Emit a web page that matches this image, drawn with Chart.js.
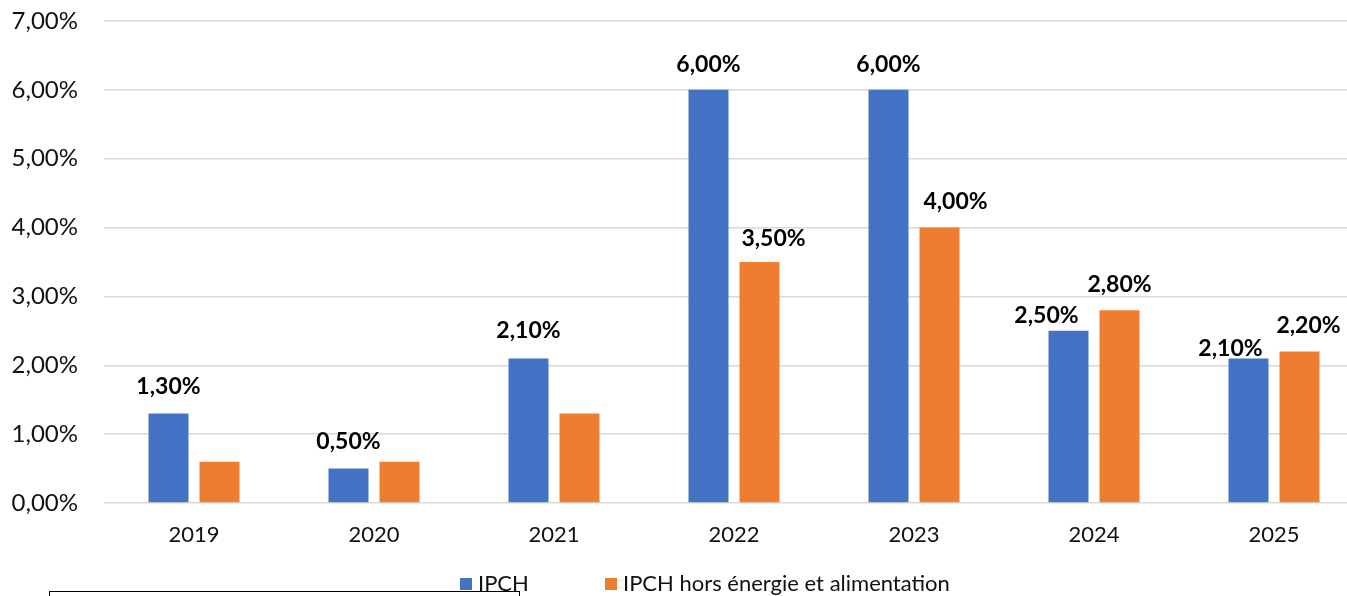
<!DOCTYPE html>
<html lang="fr">
<head>
<meta charset="utf-8">
<title>IPCH</title>
<script src="https://cdn.jsdelivr.net/npm/chart.js@4.4.1/dist/chart.umd.min.js"></script>
<style>
  html, body { margin: 0; padding: 0; background: #fff; overflow: hidden; }
  #wrap { position: relative; width: 1370px; height: 596px; }
</style>
</head>
<body>
<div id="wrap"><canvas id="inflation"></canvas></div>
<script>
const years = ["2019", "2020", "2021", "2022", "2023", "2024", "2025"];
const ipch = [1.3, 0.5, 2.1, 6.0, 6.0, 2.5, 2.1];
const ipchCore = [0.6, 0.6, 1.3, 3.5, 4.0, 2.8, 2.2];
const seriesNames = ["IPCH", "IPCH hors énergie et alimentation"];
const yTicks = [0, 1, 2, 3, 4, 5, 6, 7];

// which bars carry a value label
const ipchLabelled = [true, true, true, true, true, true, true];
const coreLabelled = [false, false, false, true, true, true, true];

const FONT = "Lato, 'Open Sans', sans-serif";
const pct = v => v.toFixed(2).replace(".", ",") + "%";

// value labels above the bars, some nudged sideways so they don't collide
const barValues = {
  id: "barValues",
  afterDatasetsDraw(chart, args, opts) {
    const ctx = chart.ctx;
    ctx.save();
    ctx.font = "bold 23px " + FONT;
    ctx.fillStyle = "#000";
    ctx.textAlign = "center";
    ctx.textBaseline = "alphabetic";
    chart.data.datasets.forEach((ds, i) => {
      chart.getDatasetMeta(i).data.forEach((bar, j) => {
        if (!opts.show[i][j]) return;
        ctx.fillText(pct(ds.data[j]), bar.x + opts.dx[i][j], bar.y - opts.gap[i][j]);
      });
    });
    ctx.restore();
  }
};

// legend row under the axis
const bottomLegend = {
  id: "bottomLegend",
  afterDraw(chart, args, opts) {
    const ctx = chart.ctx;
    ctx.save();
    ctx.font = "22px " + FONT;
    ctx.textBaseline = "middle";
    ctx.textAlign = "left";
    chart.data.datasets.forEach((ds, i) => {
      const x = opts.x[i];
      ctx.fillStyle = ds.backgroundColor;
      ctx.fillRect(x, opts.y - 6, 12, 12);
      ctx.fillStyle = "#111";
      ctx.fillText(ds.label, x + 18, opts.y);
    });
    ctx.restore();
  }
};

// thin frame left over at the bottom left
const frame = {
  id: "frame",
  afterDraw(chart) {
    const ctx = chart.ctx;
    ctx.save();
    ctx.strokeStyle = "#000";
    ctx.lineWidth = 1;
    ctx.strokeRect(49.5, 591.5, 470, 40);
    ctx.restore();
  }
};

new Chart(document.getElementById("inflation"), {
  type: "bar",
  data: {
    labels: years,
    datasets: [
      { label: seriesNames[0], data: ipch, backgroundColor: "#4472C4" },
      { label: seriesNames[1], data: ipchCore, backgroundColor: "#ED7D31" }
    ]
  },
  options: {
    responsive: true,
    maintainAspectRatio: false,
    animation: false,
    layout: { padding: { top: 21, right: 6, left: 0, bottom: 0 } },
    categoryPercentage: 0.5667,
    barPercentage: 0.784,
    scales: {
      x: {
        grid: { display: false },
        border: { display: false },
        ticks: { color: "#111", font: { family: FONT, size: 22 }, padding: 11 },
        afterFit: s => { s.height = 93; }
      },
      y: {
        min: 0,
        max: 7,
        afterBuildTicks: s => { s.ticks = yTicks.map(v => ({ value: v })); },
        grid: { color: "#d9d9d9", lineWidth: 1.5, drawTicks: false },
        border: { display: false },
        ticks: { color: "#111", font: { family: FONT, size: 24 }, padding: 26, callback: v => pct(v) },
        afterFit: s => { s.width = 104; s.paddingTop = 0; s.paddingBottom = 0; }
      }
    },
    plugins: {
      legend: { display: false },
      tooltip: { enabled: false },
      barValues: {
        show: [ipchLabelled, coreLabelled],
        dx: [[0, 0, 0, 0, 0, -22, -18], [0, 0, 0, 14, 16, 0, 9]],
        gap: [[19, 20, 20, 18, 18, 8, 2], [19, 19, 19, 16, 19, 18, 19]]
      },
      bottomLegend: { x: [460, 605], y: 584 }
    }
  },
  plugins: [barValues, bottomLegend, frame]
});
</script>
</body>
</html>
